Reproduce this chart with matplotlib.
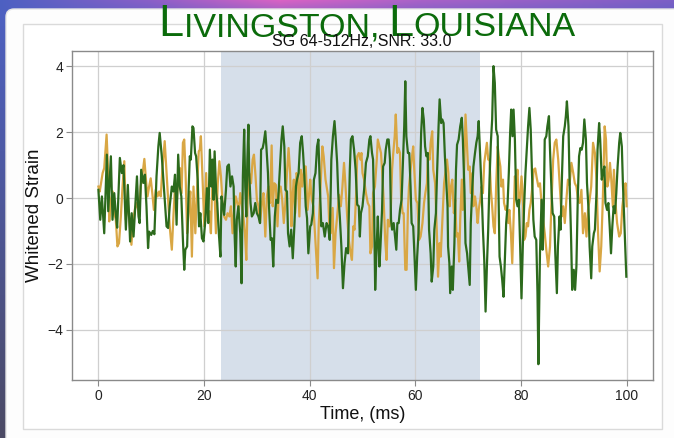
import numpy as np
import matplotlib
matplotlib.use("Agg")
import matplotlib.pyplot as plt
from matplotlib.patches import FancyBboxPatch, Rectangle

plt.rcParams['font.family'] = ['Liberation Sans', 'DejaVu Sans']

# ---------------- data ----------------
green_t = [0.0, 0.35, 0.66, 1.1, 1.6, 1.86, 2.36, 2.67, 3.0, 3.3, 3.55, 4.06, 4.43, 4.75, 5.2, 5.57, 6.0, 6.3, 6.65, 6.97,
           7.3, 7.6, 7.8, 8.1, 8.5, 8.8, 9.1, 9.4, 9.6, 10.0, 10.3, 10.6, 11.0, 11.35, 11.6, 12.0, 12.3, 12.55, 12.9, 13.2,
           13.5, 13.9, 14.2, 14.5, 14.8, 15.1, 15.4, 15.7, 16.0, 16.25, 16.45, 16.8, 17.1, 17.3, 17.5, 17.8, 18.0, 18.3, 18.5, 18.8,
           19.05, 19.3, 19.6, 19.9, 20.2, 20.55, 20.8, 21.1, 21.4, 21.6, 21.8, 22.0, 22.3, 22.5, 22.8, 23.1, 23.3, 23.6, 23.8, 24.15,
           24.4, 24.7, 25.0, 25.3, 25.6, 25.8, 26.0, 26.2, 26.5, 26.85, 27.1, 27.35, 27.6, 27.8, 28.0, 28.2, 28.4, 28.55, 28.8, 29.05,
           29.4, 29.7, 30.0, 30.3, 30.6, 30.8, 31.1, 31.3, 31.6, 31.8, 32.1, 32.3, 32.6, 32.85, 33.1, 33.4, 33.65, 34.0, 34.35, 34.66,
           34.9, 35.2, 35.4, 35.7, 35.9, 36.2, 36.5, 36.8, 37.1, 37.4, 37.6, 37.9, 38.2, 38.5, 38.75, 39.0, 39.25, 39.5, 39.75, 40.1,
           40.3, 40.6, 40.8, 41.1, 41.4, 41.65, 41.9, 42.2, 42.5, 42.85, 43.2, 43.5, 43.8, 44.1, 44.4, 44.7, 44.9, 45.2, 45.4, 45.7,
           46.0, 46.3, 46.6, 46.9, 47.25, 47.6, 47.8, 48.1, 48.4, 48.7, 49.0, 49.3, 49.5, 49.7, 50.0, 50.3, 50.65, 51.0, 51.3, 51.5,
           51.8, 52.0, 52.2, 52.4, 52.7, 52.9, 53.2, 53.4, 53.7, 53.9, 54.2, 54.4, 54.7, 54.95, 55.2, 55.4, 55.6, 55.9, 56.1, 56.4,
           56.6, 56.85, 57.1, 57.4, 57.6, 57.9, 58.1, 58.3, 58.6, 58.85, 59.1, 59.3, 59.6, 59.85, 60.1, 60.35, 60.6, 60.85, 61.1, 61.35,
           61.6, 61.85, 62.1, 62.35, 62.6, 62.9, 63.1, 63.4, 63.6, 63.9, 64.1, 64.4, 64.6, 64.9, 65.1, 65.35, 65.6, 65.9, 66.1, 66.2,
           66.45, 66.6, 66.9, 67.1, 67.4, 67.7, 67.9, 68.2, 68.5, 68.8, 69.0, 69.3, 69.5, 69.8, 70.0, 70.3, 70.5, 70.8, 71.0, 71.3,
           71.55, 71.8, 72.0, 72.3, 72.55, 72.8, 73.05, 73.3, 73.55, 73.8, 74.05, 74.3, 74.55, 74.8, 75.05, 75.3, 75.6, 75.75, 75.95, 76.2,
           76.45, 76.7, 76.95, 77.2, 77.45, 77.7, 77.95, 78.15, 78.4, 78.6, 78.85, 79.1, 79.35, 79.6, 79.85, 80.1, 80.35, 80.6, 80.85, 81.1,
           81.35, 81.6, 81.85, 82.1, 82.35, 82.6, 82.9, 83.13, 83.3, 83.6, 83.9, 84.1, 84.3, 84.5, 84.8, 85.0, 85.3, 85.5, 85.8, 86.0,
           86.3, 86.5, 86.8, 87.0, 87.3, 87.5, 87.8, 88.0, 88.3, 88.5, 88.7, 89.0, 89.2, 89.5, 89.7, 90.0, 90.25, 90.5, 90.75, 91.0,
           91.25, 91.5, 91.75, 92.0, 92.3, 92.5, 92.8, 93.0, 93.3, 93.5, 93.8, 94.0, 94.3, 94.5, 94.8, 95.0, 95.3, 95.5, 95.8, 96.0,
           96.3, 96.55, 96.8, 97.05, 97.3, 97.55, 97.8, 98.05, 98.3, 98.6, 98.8, 99.1, 99.3, 99.6, 99.95]
green_v = [0.25, -0.66, 0.05, -1.07, 1.32, -0.4, 1.27, -0.66, 0.15, -0.5, -0.9, 1.22, 0.76, 1.0, -0.96, 0.4, -1.32, -0.46, -1.17, -0.25,
           0.66, -0.56, -0.76, 0.86, 0.46, 0.71, -0.25, -1.52, -1.02, -1.12, -1.0, -1.1, 0.66, 1.57, 1.98, 1.27, 0.56, -0.05, -0.86, -0.91,
           -0.25, 0.35, 0.2, 0.71, -0.81, 1.32, 0.35, 0.05, -1.27, -2.18, -1.57, -1.47, 0.35, 1.27, 1.17, 2.18, 2.13, 1.37, 1.27, 0.56,
           -0.86, -0.46, -1.22, -1.32, -0.76, 0.3, -0.76, 1.47, 0.35, 1.17, -0.05, 1.42, 0.15, -0.15, -1.07, -1.78, 0.05, -0.25, -0.51, 0.25,
           0.96, 1.02, 0.35, 0.66, 0.35, -1.17, -2.08, -0.66, -0.25, -1.07, -2.59, 0.66, 2.08, 0.35, -0.56, 1.17, 2.23, 0.76, -0.15, -0.56,
           -0.46, -0.15, -0.46, -0.56, -0.76, 1.47, 1.52, 1.68, 2.03, 1.57, 0.76, -0.25, -1.27, -1.22, -2.08, -0.56, -0.05, -0.15, 0.86, 1.78,
           2.18, 1.57, 0.25, 0.2, -1.07, -1.47, -0.96, -1.83, -0.86, 0.35, 0.56, 0.76, 1.68, 1.88, 1.37, 0.66, -0.25, -0.61, -1.68, -0.86,
           -0.81, -0.46, 0.56, 0.76, 1.57, 1.78, 0.46, -0.86, -0.76, -1.17, -0.76, -0.86, -1.27, 1.17, 1.88, 2.34, 1.88, 1.07, 0.15, -0.56,
           -1.47, -2.74, -1.98, -1.52, -1.68, 0.86, 1.78, 1.88, 1.47, 0.86, -0.2, -0.25, -1.17, -0.46, -0.25, 0.25, 1.07, 1.27, 1.78, 1.88,
           1.37, 1.17, -0.36, -2.79, -1.37, -0.56, -2.08, -1.47, -0.36, 0.96, 1.07, 1.47, 1.78, 1.78, 1.17, -0.66, -0.96, -0.76, -1.07, -1.57,
           -0.76, -0.76, -0.36, -0.05, 0.86, 2.18, 3.55, 1.88, 1.37, 1.37, 0.35, -0.76, -0.86, -1.78, -2.79, -1.78, -1.07, 0.35, 1.98, 2.74,
           2.39, 1.57, 1.27, 1.37, -0.96, -1.68, -2.54, -2.08, -0.96, -0.46, 0.66, 2.18, 3.0, 2.28, 2.39, 2.28, 1.27, 0.35, -0.25, -1.47,
           -1.98, -2.89, -2.08, -2.79, -1.37, 0.86, 1.62, 1.78, 2.18, 2.44, 1.78, 0.25, -1.37, -1.68, -2.08, -2.64, -0.76, 0.35, 0.96, 1.37,
           1.68, 1.88, 2.34, 1.17, 0.25, -0.96, -1.88, -3.45, -2.08, -0.96, 0.56, 1.68, 2.39, 4.01, 3.5, 2.08, 1.88, 0.15, -1.78, -2.08,
           -2.49, -3.0, -1.88, -0.76, -0.25, 0.76, 1.98, 2.69, 1.88, 2.69, 1.78, -0.05, -0.25, -0.05, -1.47, -3.05, -1.47, -0.25, 0.76, 1.47,
           2.18, 2.74, 2.08, 0.66, -0.66, -1.17, -1.27, -2.89, -5.05, -1.68, -0.05, -1.57, -0.56, 1.78, 1.88, 2.18, 2.49, 1.47, 0.15, -0.46,
           -0.56, -1.68, -2.89, -1.47, -0.56, -0.96, 0.86, 1.88, 2.18, 2.49, 2.94, 2.18, 0.56, -1.27, -2.79, -2.18, -2.79, -2.08, -0.05, 1.27,
           1.52, 1.47, 1.68, 2.39, 1.78, 0.46, -0.36, -1.47, -2.44, -1.47, -1.07, -0.96, 0.15, 1.47, 2.28, 1.78, 0.56, 0.76, 0.96, -0.15,
           -0.36, -0.15, -0.86, -1.68, -0.86, -0.25, -0.46, 0.15, 0.96, 1.68, 1.98, 1.57, 0.46, -0.86, -2.39]

gold_t = [0.0, 0.25, 0.5, 0.8, 1.1, 1.55, 1.8, 2.05, 2.36, 2.7, 3.0, 3.3, 3.6, 3.9, 4.25, 4.55, 4.9, 5.2, 5.5, 5.8,
          6.25, 6.6, 6.95, 7.3, 7.7, 8.0, 8.3, 8.7, 9.0, 9.3, 9.6, 9.9, 10.2, 10.5, 10.85, 11.2, 11.5, 11.8, 12.1, 12.55,
          12.9, 13.2, 13.5, 13.9, 14.2, 14.5, 14.8, 15.1, 15.45, 15.75, 16.0, 16.25, 16.5, 16.8, 17.1, 17.4, 17.7, 18.0, 18.35, 18.7,
          19.0, 19.2, 19.4, 19.7, 20.05, 20.4, 20.7, 21.0, 21.3, 21.6, 21.9, 22.25, 22.6, 22.9, 23.2, 23.5, 23.8, 24.15, 24.45, 24.8,
          25.1, 25.4, 25.7, 26.0, 26.3, 26.6, 26.85, 27.2, 27.5, 27.75, 28.0, 28.25, 28.55, 28.9, 29.2, 29.45, 29.75, 30.0, 30.3, 30.6,
          30.95, 31.25, 31.6, 31.9, 32.2, 32.5, 32.8, 33.0, 33.3, 33.6, 33.9, 34.15, 34.5, 34.8, 35.1, 35.4, 35.7, 36.0, 36.3, 36.55,
          36.8, 37.0, 37.25, 37.5, 37.75, 38.05, 38.3, 38.6, 38.95, 39.25, 39.6, 39.9, 40.1, 40.4, 40.7, 41.0, 41.3, 41.5, 41.7, 42.0,
          42.2, 42.4, 42.65, 43.0, 43.2, 43.5, 43.7, 44.0, 44.35, 44.6, 44.9, 45.2, 45.55, 45.9, 46.2, 46.5, 46.75, 47.1, 47.4, 47.7,
          48.0, 48.25, 48.5, 48.8, 49.0, 49.3, 49.6, 49.8, 50.0, 50.3, 50.65, 51.0, 51.3, 51.5, 51.8, 52.0, 52.35, 52.7, 52.9, 53.2,
          53.5, 53.7, 54.0, 54.3, 54.55, 54.8, 55.1, 55.3, 55.6, 55.8, 56.1, 56.3, 56.6, 56.8, 57.1, 57.3, 57.6, 57.8, 58.1, 58.35,
          58.6, 58.8, 59.1, 59.3, 59.6, 59.8, 60.1, 60.4, 60.7, 61.0, 61.35, 61.65, 61.9, 62.2, 62.4, 62.7, 62.9, 63.2, 63.4, 63.75,
          64.1, 64.3, 64.6, 64.8, 65.1, 65.45, 65.75, 66.0, 66.25, 66.5, 66.75, 67.0, 67.3, 67.55, 67.8, 68.05, 68.3, 68.5, 68.8, 69.0,
          69.3, 69.5, 69.8, 70.0, 70.3, 70.5, 70.8, 71.0, 71.3, 71.55, 71.8, 72.0, 72.3, 72.55, 72.8, 73.05, 73.3, 73.55, 73.8, 74.05,
          74.3, 74.55, 74.8, 75.05, 75.3, 75.6, 75.8, 76.1, 76.3, 76.6, 76.8, 77.1, 77.3, 77.6, 77.8, 78.1, 78.35, 78.6, 78.85, 79.1,
          79.35, 79.6, 79.85, 80.1, 80.35, 80.6, 80.85, 81.1, 81.35, 81.6, 81.85, 82.1, 82.4, 82.7, 83.0, 83.3, 83.6, 83.9, 84.2, 84.5,
          84.8, 85.15, 85.5, 85.8, 86.1, 86.4, 86.7, 87.05, 87.35, 87.7, 88.0, 88.3, 88.6, 88.9, 89.2, 89.55, 89.9, 90.2, 90.5, 90.8,
          91.1, 91.45, 91.75, 92.1, 92.4, 92.7, 93.0, 93.3, 93.65, 94.0, 94.3, 94.6, 94.9, 95.2, 95.5, 95.85, 96.1, 96.35, 96.6, 96.85,
          97.1, 97.4, 97.6, 97.9, 98.2, 98.6, 98.9, 99.2, 99.5, 99.8, 100.0]
gold_v = [0.35, 0.2, 0.45, 0.76, 0.91, 1.93, 0.96, -0.71, -0.05, 0.2, -0.46, -0.66, -1.47, -1.37, -0.56, 0.3, 1.12, -0.66, -0.05, -0.56,
          -1.42, -0.66, -0.3, -0.15, -0.56, 0.35, 0.66, 1.19, 0.56, 0.05, 0.35, 0.6, 0.15, -0.36, 0.25, 0.05, 0.2, 0.05, 0.86, 1.73,
          0.76, -0.05, -0.86, -1.57, -0.56, 0.35, -0.25, 0.66, 0.91, 0.15, 1.68, 1.78, 0.76, -1.07, -0.36, 0.2, -1.78, 0.35, -1.07, 0.35,
          1.42, 1.47, 1.88, 0.66, -0.86, 0.76, -0.71, -0.4, -1.07, 0.76, 0.56, -1.07, 0.45, 1.12, 0.66, -0.15, -0.56, -0.66, -0.46, -0.56,
          -0.25, -1.07, -0.36, 0.05, -0.15, -0.36, 0.15, -0.25, -0.66, -1.07, -1.88, -0.05, 0.76, 0.45, 1.17, 1.32, 0.66, -0.05, -0.25, -0.76,
          -0.15, 0.15, -1.17, 0.05, 0.35, -0.15, 1.6, -0.25, 0.45, 0.4, -0.86, 0.15, 0.35, -0.05, -0.76, -0.15, 0.76, 1.52, 0.76, -0.86,
          0.15, 0.56, -0.46, 0.76, 0.66, -0.56, 0.86, 0.35, 0.96, 0.96, -0.36, 0.15, 0.56, -0.05, -0.25, -1.07, -1.88, -2.44, -0.86, 0.15,
          0.86, 1.57, 1.27, 0.56, 0.35, 0.05, -0.76, -1.07, -0.3, -2.13, -1.07, -0.56, 0.1, -0.25, 0.35, 1.07, 0.46, -0.56, -1.27, -1.62,
          -1.88, -0.86, -0.96, 0.15, 1.27, 1.37, 1.17, 1.37, 0.76, 0.56, 0.15, -0.15, -0.25, -1.68, -1.47, 0.15, 0.35, 1.17, 1.78, 1.57,
          1.37, 0.86, -0.05, -1.27, -1.88, -0.66, -0.86, -0.66, 0.86, 1.32, 1.88, 2.54, 1.37, 1.52, 1.37, 0.05, -0.46, -0.46, -2.18, -2.18,
          -0.36, 0.35, 0.86, 1.17, 1.57, 0.86, -0.05, -0.15, -1.27, -1.17, -0.76, -0.15, 0.15, 0.45, 1.37, 1.17, 1.68, 2.03, 0.86, 0.45,
          -1.17, -2.39, -1.37, -1.78, -0.76, 0.45, 0.86, 1.17, 0.76, -0.25, 0.35, 0.56, -0.46, -0.05, -1.17, -1.07, -1.93, -0.66, 0.56, -0.36,
          1.17, 2.54, 1.57, 0.86, 0.96, 0.15, 0.76, -0.25, 0.05, -0.25, -0.76, -0.36, -0.05, 0.35, 0.15, 1.07, 1.37, 1.68, 1.17, 1.17,
          0.25, -0.25, -0.86, -1.07, 0.35, 1.57, 1.27, 0.96, 0.35, 0.56, -0.15, -0.36, -0.25, -0.76, -0.36, -1.07, -1.98, -0.66, 0.66, 0.45,
          0.86, -0.25, -0.05, 0.66, 0.15, -1.27, -1.17, -0.76, -0.86, -0.36, -0.15, 0.25, 0.86, 0.9, 0.6, 0.35, 0.45, -0.15, -0.66, -1.07,
          -1.57, -2.08, -1.47, -0.05, 1.17, 1.68, 1.78, 1.17, 0.35, -0.56, -0.25, -0.76, -0.05, 0.56, 0.4, 1.07, 0.76, 0.45, 0.35, -0.05,
          -0.15, 0.25, -1.07, -0.46, -1.17, -0.36, -0.05, 0.35, 1.68, 1.37, 0.56, -1.07, -2.23, -1.47, -0.05, 2.18, 1.78, 0.35, 0.56, 1.07,
          0.56, -0.25, 0.86, -0.15, -0.76, -1.17, -1.07, -0.25, 0.15, 0.45, -0.25]

shade_range = (23.3, 72.2)
x_ticks = [0, 20, 40, 60, 80, 100]
y_ticks = [-4, -2, 0, 2, 4]
title_parts = [("L", "big"), ("IVINGSTON, ", "small"), ("L", "big"), ("OUISIANA", "small")]
subtitle = "SG 64-512Hz, SNR: 33.0"
xlabel = "Time, (ms)"
ylabel = "Whitened Strain"

# ---------------- figure ----------------
W, H = 674, 438
fig = plt.figure(figsize=(W / 100, H / 100), dpi=100)

# page background (gradient) + card
bg = fig.add_axes([0, 0, 1, 1], zorder=-10)
bg.set_xlim(0, W); bg.set_ylim(H, 0); bg.axis('off')
ys = np.arange(H)[:, None, None]
def hex2rgb(h):
    h = h.lstrip('#'); return np.array([int(h[i:i + 2], 16) / 255 for i in (0, 2, 4)])
stops_x = [0, 150, 280, 420, 674]
cols_x = [hex2rgb(c) for c in ['#4d61c2', '#8a5fc8', '#d963c4', '#a862c8', '#7b5fc6']]
top = np.stack([np.interp(np.arange(W), stops_x, [c[i] for c in cols_x]) for i in range(3)], axis=-1)[None, :, :]
stops_y = [0, 150, 438]
cols_y = [hex2rgb(c) for c in ['#4d61c2', '#4e5aa6', '#4b4a64']]
left = np.stack([np.interp(np.arange(H), stops_y, [c[i] for c in cols_y]) for i in range(3)], axis=-1)[:, None, :]
a = np.clip(ys / 30.0, 0, 1)
img = (1 - a) * top + a * left
bg.imshow(img, extent=(0, W, H, 0), aspect='auto', zorder=0)
bg.add_patch(FancyBboxPatch((6, 9), W + 40, H + 40, boxstyle="round,pad=0,rounding_size=8",
                            facecolor='#fdfdfd', edgecolor='#e6e6e6', lw=1.0, zorder=1))
bg.add_patch(Rectangle((23, 24), 639, 405, facecolor='white', edgecolor='#dadada', lw=1.0, zorder=2))

# main axes
ax = fig.add_axes([72 / W, 1 - 380 / H, (653 - 72) / W, (380 - 51) / H])
ax.axvspan(*shade_range, color='#d6dfea', zorder=0, lw=0)
ax.plot(gold_t, gold_v, color='#d9a744', lw=1.6, zorder=2)
ax.plot(green_t, green_v, color='#2c6a1c', lw=1.6, zorder=3)
ax.set_xlim(-5, 105)
ax.set_ylim(-5.53, 4.47)
ax.set_xticks(x_ticks)
ax.set_yticks(y_ticks)
ax.grid(True, color='#cfcfcf', lw=0.9, zorder=1)
ax.set_axisbelow(True)
for s in ax.spines.values():
    s.set_color('#8a8a8a'); s.set_linewidth(1.0)
ax.tick_params(axis='both', direction='out', length=4, width=0.8, color='#8a8a8a',
               labelsize=10, labelcolor='#222222', pad=2.5)
ax.set_xlabel(xlabel, fontsize=13, color='#111111', labelpad=2)
ax.set_ylabel(ylabel, fontsize=13.5, color='#111111', labelpad=3)

# small-caps title composed from pieces
renderer = fig.canvas.get_renderer()
sizes = {"big": 32.5, "small": 24.5}
texts = []
for txt, kind in title_parts:
    t = fig.text(0, 0, txt, fontsize=sizes[kind], color='#0b6b0b', ha='left', va='baseline')
    texts.append(t)
widths = [t.get_window_extent(renderer).width for t in texts]
total = sum(widths)
x0 = 367 - total / 2
base_y = 1 - 36.5 / H
for t, w in zip(texts, widths):
    t.set_position((x0 / W, base_y))
    x0 += w

fig.text(362 / W, 1 - 46.5 / H, subtitle, fontsize=11.5, color='#111111', ha='center', va='baseline')

fig.savefig('out.png', dpi=100)
